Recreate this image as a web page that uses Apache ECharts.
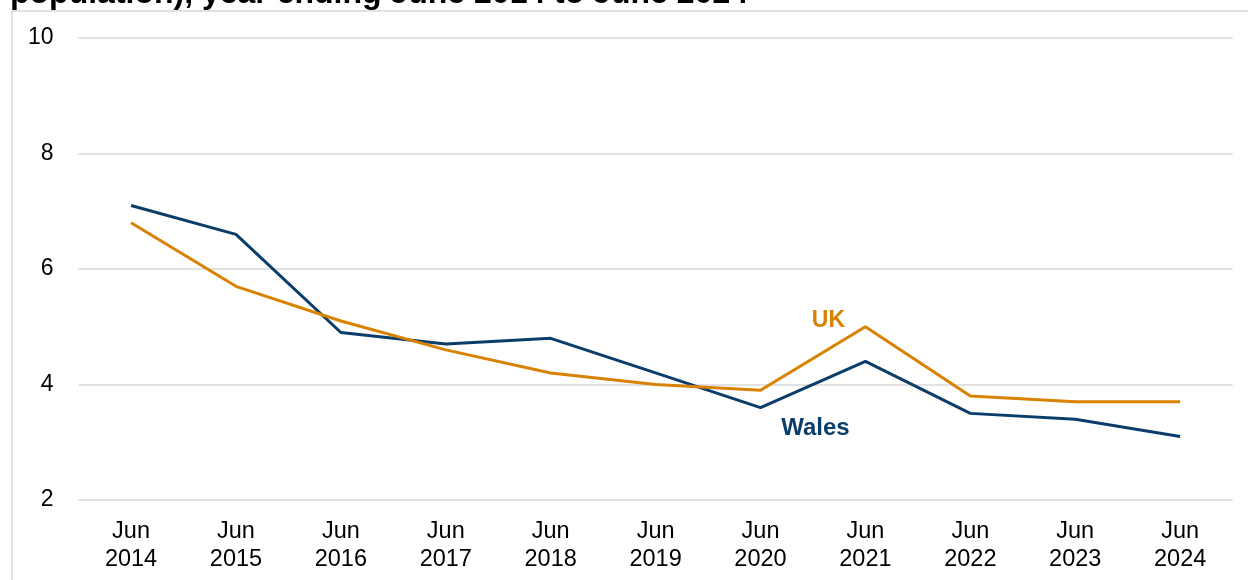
<!DOCTYPE html>
<html><head><meta charset="utf-8">
<script src="https://cdn.jsdelivr.net/npm/echarts@6/dist/echarts.min.js"></script>
<style>html,body{margin:0;padding:0;background:#fff}#c{width:1248px;height:580px}</style>
</head><body><div id="c"></div>
<script>
var categories = ['Jun\n2014','Jun\n2015','Jun\n2016','Jun\n2017','Jun\n2018','Jun\n2019','Jun\n2020','Jun\n2021','Jun\n2022','Jun\n2023','Jun\n2024'];
var wales = [7.1, 6.6, 4.9, 4.7, 4.8, 4.2, 3.6, 4.4, 3.5, 3.4, 3.1];
var uk = [6.8, 5.7, 5.1, 4.6, 4.2, 4.0, 3.9, 5.0, 3.8, 3.7, 3.7];
var titleText = 'population), year ending June 2014 to June 2024';

var chart = echarts.init(document.getElementById('c'));
chart.setOption({
  animation: false,
  graphic: [
    {type: 'text', x: 10, y: 10, silent: true, z: 10,
     style: {text: titleText, verticalAlign: 'bottom', align: 'left', font: 'bold 32px "Liberation Sans", Arial, sans-serif', fill: '#000'}},
    {type: 'rect', shape: {x: 12, y: 11, width: 1260, height: 600}, style: {fill: 'none', stroke: '#d9d9d9', lineWidth: 1.5}, silent: true, z: 0}
  ],
  grid: {left: 78.6, right: 15.4, top: 38, bottom: 80, containLabel: false},
  xAxis: {
    type: 'category', data: categories, boundaryGap: true,
    axisLine: {show: false}, axisTick: {show: false},
    axisLabel: {fontFamily: 'Liberation Sans', fontSize: 23.5, color: '#000', lineHeight: 28, margin: 18, interval: 0}
  },
  yAxis: {
    type: 'value', min: 2, max: 10, interval: 2,
    axisLabel: {fontFamily: 'Liberation Sans', fontSize: 23, color: '#000', margin: 25},
    axisLine: {show: false}, axisTick: {show: false},
    splitLine: {lineStyle: {color: '#d9d9d9', width: 1.5}}
  },
  series: [
    {name: 'Wales', type: 'line', data: wales, symbol: 'none', lineStyle: {color: '#0b3d6b', width: 3}, itemStyle: {color: '#0b3d6b'},
     markPoint: {symbol: 'rect', symbolSize: 0, data: [{coord: [7, 3.6], value: 'Wales'}],
       label: {show: true, formatter: 'Wales', fontFamily: 'Liberation Sans', fontWeight: 'bold', fontSize: 24, color: '#0b3d6b', offset: [-50, 21]}}},
    {name: 'UK', type: 'line', data: uk, symbol: 'none', lineStyle: {color: '#d98200', width: 3}, itemStyle: {color: '#d98200'},
     markPoint: {symbol: 'rect', symbolSize: 0, data: [{coord: [7, 5.0], value: 'UK'}],
       label: {show: true, formatter: 'UK', fontFamily: 'Liberation Sans', fontWeight: 'bold', fontSize: 23, color: '#d98200', offset: [-37, -6]}}}
  ]
});
</script></body></html>
